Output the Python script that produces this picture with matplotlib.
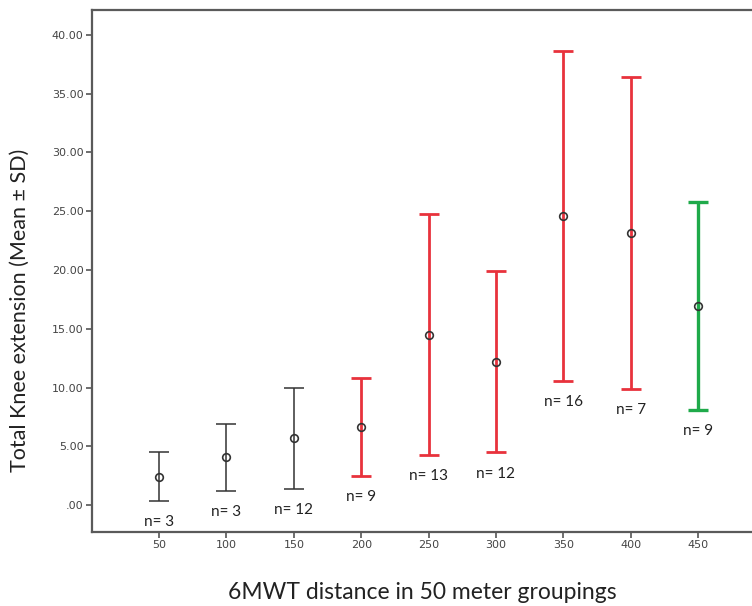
import matplotlib
matplotlib.use("Agg")
import matplotlib.pyplot as plt

# 6MWT groups (m), mean / SD of total knee extension, group size
groups = [50, 100, 150, 200, 250, 300, 350, 400, 450]
means = [2.40, 4.05, 5.68, 6.65, 14.50, 12.21, 24.57, 23.13, 16.95]
sds = [2.08, 2.85, 4.32, 4.18, 10.24, 7.73, 14.03, 13.27, 8.86]
counts = [3, 3, 12, 9, 13, 12, 16, 7, 9]
bar_colors = ["#333333"] * 3 + ["#e8323c"] * 5 + ["#1faa4a"]
bar_widths = [1.1] * 3 + [2.0] * 5 + [2.4]
y_ticks = [0, 5, 10, 15, 20, 25, 30, 35, 40]
y_tick_labels = [".00", "5.00", "10.00", "15.00", "20.00", "25.00", "30.00", "35.00", "40.00"]

plt.rcParams["font.family"] = ["Lato", "DejaVu Sans"]

fig = plt.figure(figsize=(7.52, 6.06), dpi=100)
ax = fig.add_axes([0.122, 0.122, 0.878, 0.861])

for x, m, s, n, c, lw in zip(groups, means, sds, counts, bar_colors, bar_widths):
    ax.errorbar(x, m, yerr=s, fmt="none", ecolor=c, elinewidth=lw,
                capsize=7, capthick=lw, zorder=2)
    ax.plot(x, m, "o", ms=5.5, mfc="none", mec="#333333", mew=1.2, zorder=3)
    ax.text(x, m - s - 1.8, f"n= {n}", ha="center", va="center",
            fontsize=11, color="#222222")

ax.set_xlim(0, 490)
ax.set_ylim(-2.3, 42.1)
ax.set_xticks(groups)
ax.set_xticklabels([str(g) for g in groups], fontsize=8, color="#444444",
                   family=["DejaVu Sans"])
ax.set_yticks(y_ticks)
ax.set_yticklabels(y_tick_labels, fontsize=8, color="#444444",
                   family=["DejaVu Sans"])
ax.tick_params(direction="out", length=4, width=1.2, color="#555555", pad=2)

for side in ("left", "bottom", "top"):
    ax.spines[side].set_color("#5a5a5a")
    ax.spines[side].set_linewidth(1.6)
ax.spines["right"].set_visible(False)

ax.set_xlabel("6MWT distance in 50 meter groupings", fontsize=16.5,
              color="#222222")
ax.xaxis.set_label_coords((422 - 91.7) / (752 * 0.878), -0.095)
ax.set_ylabel("Total Knee extension (Mean ± SD)", fontsize=15.5,
              color="#222222")
ax.yaxis.set_label_coords(-0.093, 0.425)

fig.savefig("out.png", dpi=100)
